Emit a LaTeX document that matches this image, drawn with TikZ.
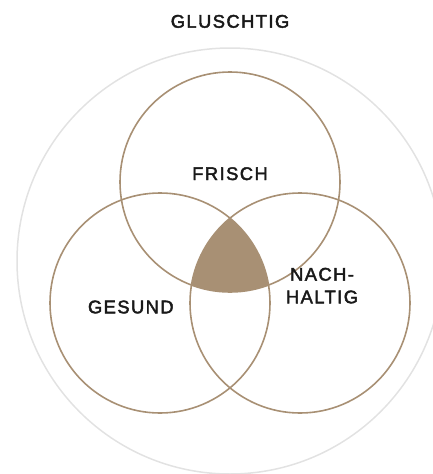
\documentclass[tikz,border=0pt]{standalone}
\usepackage{fontspec}
\setmainfont{Liberation Sans}[FakeBold=2.4, LetterSpace=8]
\usepackage{tikz}
\usetikzlibrary{positioning}

\definecolor{tan}{HTML}{A89074}
\definecolor{ringgray}{HTML}{E2E2E2}

\begin{document}
\begin{tikzpicture}[x=1pt, y=-1pt,
        ring/.style={draw=tan, line width=1.6pt},
        outer/.style={draw=ringgray, line width=1.5pt},
        lab/.style={font=\fontsize{18.3}{22.7}\selectfont, text=black!90, align=center, anchor=base, inner sep=0pt}
    ]

    \useasboundingbox (0,0) rectangle (432,474);

    \coordinate (all) at (230,261);
    \coordinate (top) at (230,182);
    \coordinate (left) at (160,303);
    \coordinate (right) at (300,303);

    \draw[outer] (all) circle[radius=213pt];

    \begin{scope}
        \clip (top) circle[radius=110pt];
        \clip (left) circle[radius=110pt];
        \fill[tan] (right) circle[radius=110pt];
    \end{scope}

    \draw[ring] (top) circle[radius=110pt];
    \draw[ring] (left) circle[radius=110pt];
    \draw[ring] (right) circle[radius=110pt];

    \node[lab] (gluschtig) at (230,27.7) {GLUSCHTIG};
    \node[lab] (frisch) at (230,180) {FRISCH};
    \node[lab] (gesund) at (130.8,313.3) {GESUND};
    \node[lab] (nachhaltig) at (322,303.3) {NACH-\\HALTIG};

    \end{tikzpicture}
\end{document}
